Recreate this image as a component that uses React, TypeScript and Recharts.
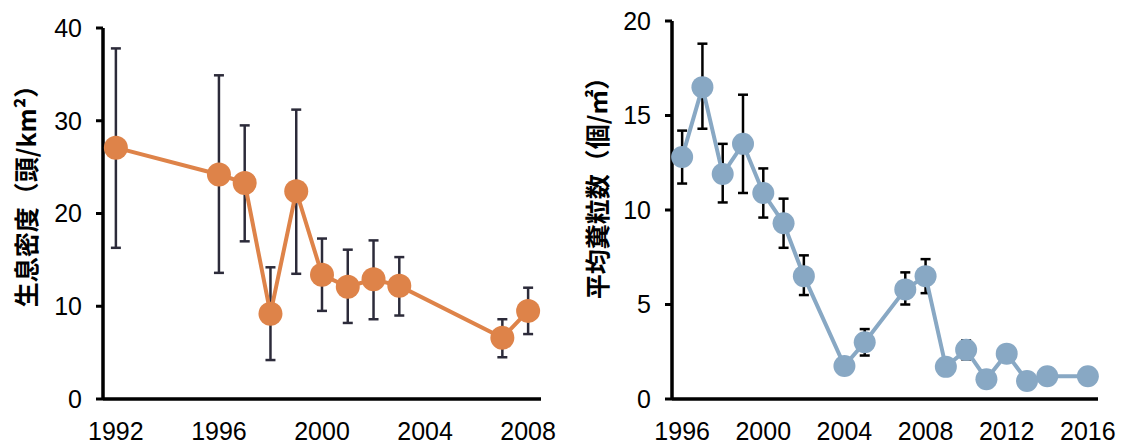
import React from 'react';
import { LineChart, Line, XAxis, YAxis, ErrorBar, ReferenceLine } from 'recharts';

// 生息密度 (left panel)
const densityYears = [1992, 1996, 1997, 1998, 1999, 2000, 2001, 2002, 2003, 2007, 2008];
const densityMean = [27.1, 24.2, 23.3, 9.2, 22.4, 13.4, 12.1, 12.9, 12.2, 6.6, 9.5];
const densityHigh = [37.8, 34.9, 29.5, 14.2, 31.2, 17.3, 16.1, 17.1, 15.3, 8.6, 12.0];
const densityLow = [16.3, 13.6, 17.0, 4.2, 13.5, 9.5, 8.2, 8.6, 9.0, 4.5, 7.0];
const densityYTicks = [0, 10, 20, 30, 40];
const densityXLabels = [1992, 1996, 2000, 2004, 2008];

// 平均糞粒数 (right panel)
const pelletYears = [1996, 1997, 1998, 1999, 2000, 2001, 2002, 2004, 2005, 2007, 2008, 2009, 2010, 2011, 2012, 2013, 2014, 2016];
const pelletMean = [12.8, 16.5, 11.9, 13.5, 10.9, 9.3, 6.5, 1.75, 3.0, 5.8, 6.5, 1.7, 2.6, 1.05, 2.4, 0.95, 1.2, 1.2];
const pelletHigh = [14.2, 18.8, 13.5, 16.1, 12.2, 10.6, 7.6, null, 3.7, 6.7, 7.4, null, 3.1, null, null, null, null, null];
const pelletLow = [11.4, 14.3, 10.4, 10.9, 9.6, 8.0, 5.5, null, 2.3, 5.0, 5.6, null, 2.1, null, null, null, null, null];
const pelletYTicks = [0, 5, 10, 15, 20];
const pelletXLabels = [1996, 2000, 2004, 2008, 2012, 2016];

const numFont = '"Liberation Sans", Arial, sans-serif';
const jpFont = '"Noto Sans CJK JP", sans-serif';
const al = { stroke: '#000', strokeWidth: 3 };
const hidden = { stroke: 'none' };
const tickText = { fill: '#000', fontSize: 25, fontFamily: numFont };

function buildRows(years: number[], mean: number[], high: (number | null)[], low: (number | null)[]) {
  return years.map((year, i) => {
    const h = high[i];
    const l = low[i];
    return {
      year,
      value: mean[i],
      err: h == null || l == null ? undefined : [mean[i] - l, h - mean[i]],
    };
  });
}

// tick marks sit between the yearly categories
function boundaries(years: number[]) {
  const out: number[] = [];
  for (let y = years[0]; y <= years[years.length - 1] + 1; y++) out.push(y - 0.5);
  return out;
}

const densityRows = buildRows(densityYears, densityMean, densityHigh, densityLow);
const pelletRows = buildRows(pelletYears, pelletMean, pelletHigh, pelletLow);
const densityDomain = [densityYears[0] - 0.5, densityYears[densityYears.length - 1] + 0.5];
const pelletDomain = [pelletYears[0] - 0.5, pelletYears[pelletYears.length - 1] + 0.5];

const titleStyle: React.CSSProperties = {
  position: 'absolute',
  transform: 'translate(-50%, -50%) rotate(-90deg)',
  whiteSpace: 'nowrap',
  fontFamily: jpFont,
  fontWeight: 700,
  fontSize: 25,
  lineHeight: '25px',
  color: '#000',
};

export default function App() {
  return (
    <div style={{ position: 'absolute', left: 0, top: 0, width: 1125, height: 445, display: 'flex' }}>
      <LineChart width={560} height={445} data={densityRows} margin={{ top: 28, right: 19, left: 0, bottom: 0 }}>
        <XAxis dataKey="year" type="number" domain={densityDomain} ticks={boundaries(densityYears)} interval={0}
          tick={false} height={1} tickSize={7} axisLine={al} tickLine={al} />
        <XAxis xAxisId="lab" dataKey="year" type="number" domain={densityDomain} ticks={densityXLabels} interval={0}
          axisLine={hidden} tickLine={hidden} tickMargin={16} height={45} tick={tickText} />
        <YAxis type="number" domain={[0, 40]} ticks={densityYTicks} interval={0} width={103}
          tickSize={7} tickMargin={14} axisLine={al} tickLine={al} tick={tickText} />
        <ReferenceLine x={densityDomain[0]} stroke="#000" strokeWidth={3} ifOverflow="visible" />
        <ReferenceLine y={0} stroke="#000" strokeWidth={3} ifOverflow="visible" />
        <Line dataKey="value" stroke="#DE8349" strokeWidth={4} dot={{ r: 12, fill: '#DE8349', stroke: 'none' }} isAnimationActive={false}>
          <ErrorBar dataKey="err" direction="y" width={5} stroke="#2C2B3A" strokeWidth={2.5} />
        </Line>
      </LineChart>
      <LineChart width={565} height={445} data={pelletRows} margin={{ top: 21, right: 27, left: 0, bottom: 0 }}>
        <XAxis dataKey="year" type="number" domain={pelletDomain} ticks={boundaries(pelletYears)} interval={0}
          tick={false} height={1} tickSize={7} axisLine={al} tickLine={al} />
        <XAxis xAxisId="lab" dataKey="year" type="number" domain={pelletDomain} ticks={pelletXLabels} interval={0}
          axisLine={hidden} tickLine={hidden} tickMargin={16} height={45} tick={tickText} />
        <YAxis type="number" domain={[0, 20]} ticks={pelletYTicks} interval={0} width={112}
          tickSize={7} tickMargin={14} axisLine={al} tickLine={al} tick={tickText} />
        <ReferenceLine x={pelletDomain[0]} stroke="#000" strokeWidth={3} ifOverflow="visible" />
        <ReferenceLine y={0} stroke="#000" strokeWidth={3} ifOverflow="visible" />
        <Line dataKey="value" stroke="#88A8C4" strokeWidth={4} dot={{ r: 11, fill: '#88A8C4', stroke: 'none' }} isAnimationActive={false}>
          <ErrorBar dataKey="err" direction="y" width={5} stroke="#000" strokeWidth={2.5} />
        </Line>
      </LineChart>
      <div style={{ ...titleStyle, left: 25, top: 190 }}>生息密度（頭/km²）</div>
      <div style={{ ...titleStyle, left: 596, top: 182 }}>平均糞粒数（個/㎡）</div>
    </div>
  );
}
